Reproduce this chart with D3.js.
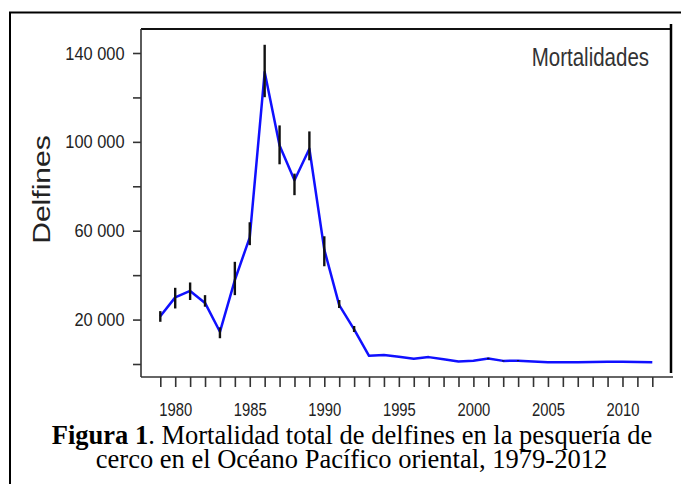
<!DOCTYPE html>
<html>
<head>
<meta charset="utf-8">
<script src="https://cdn.jsdelivr.net/npm/d3@7"></script>
<style>
  body { margin: 0; background: #fff; }
  svg { display: block; }
</style>
</head>
<body>
<div id="chart"></div>
<script>
// data
var years = [1979, 1980, 1981, 1982, 1983, 1984, 1985, 1986, 1987, 1988, 1989, 1990,
             1991, 1992, 1993, 1994, 1995, 1996, 1997, 1998, 1999, 2000, 2001, 2002,
             2003, 2004, 2005, 2006, 2007, 2008, 2009, 2010, 2011, 2012];
var deaths = [21500, 30000, 32900, 27500, 14500, 37800, 57000, 131400, 98400, 82700, 96900, 51500,
              26500, 15600, 3700, 4000, 3300, 2400, 3100, 2100, 1100, 1500, 2500, 1400,
              1500, 1100, 800, 800, 800, 900, 1000, 1000, 900, 800];
var lower = [19000, 25000, 28800, 25800, 11600, 31000, 53500, 120100, 89900, 76000, 91700, 44000,
             25200, 14400, 3700, 4000, 3300, 2400, 3100, 2100, 1100, 1500, 2200, 1200,
             1300, 1100, 800, 800, 800, 900, 1000, 1000, 900, 800];
var upper = [23800, 34300, 36700, 31000, 16500, 46000, 63800, 143700, 107400, 85700, 104700, 57500,
             28800, 17100, 3700, 4000, 3300, 2400, 3100, 2100, 1100, 1500, 2800, 1600,
             1700, 1100, 800, 800, 800, 900, 1000, 1000, 900, 800];
var yTicks = [0, 20000, 40000, 60000, 80000, 100000, 120000, 140000];
var yLabels = ["20 000", "60 000", "100 000", "140 000"];
var xLabels = [1980, 1985, 1990, 1995, 2000, 2005, 2010];

var width = 681, height = 484;
var plotLeft = 141, plotRight = 672, plotTop = 29, plotBottom = 377;

var svg = d3.select("#chart").append("svg")
    .attr("width", width)
    .attr("height", height);

// scales
var x = d3.scaleLinear()
    .domain([1979, 2012])
    .range([160.3, 652.3]);
var y = d3.scaleLinear()
    .domain([0, 140000])
    .range([364, 53]);

// outer frame (left and top only, as in the figure)
svg.append("line").attr("x1", 10).attr("y1", 12).attr("x2", 10).attr("y2", height)
    .attr("stroke", "#000").attr("stroke-width", 2);
svg.append("line").attr("x1", 9).attr("y1", 12.5).attr("x2", width).attr("y2", 12.5)
    .attr("stroke", "#000").attr("stroke-width", 2);

// plot box
svg.append("line").attr("x1", plotLeft).attr("y1", plotTop).attr("x2", plotRight).attr("y2", plotTop)
    .attr("stroke", "#111").attr("stroke-width", 2);
svg.append("line").attr("x1", 671).attr("y1", 24).attr("x2", 671).attr("y2", 373)
    .attr("stroke", "#000").attr("stroke-width", 2.5);
svg.append("line").attr("x1", plotLeft).attr("y1", plotTop).attr("x2", plotLeft).attr("y2", plotBottom)
    .attr("stroke", "#333").attr("stroke-width", 1.6);
svg.append("line").attr("x1", plotLeft).attr("y1", plotBottom).attr("x2", 673).attr("y2", plotBottom)
    .attr("stroke", "#333").attr("stroke-width", 1.6);

// y axis
var yAxis = svg.append("g")
    .attr("transform", "translate(" + plotLeft + ",0)")
    .call(d3.axisLeft(y)
        .tickValues(yTicks)
        .tickSize(8)
        .tickFormat(function(d) {
            var s = d3.format(",")(d).replace(/,/g, " ");
            return yLabels.indexOf(s) >= 0 ? s : "";
        }));
yAxis.select(".domain").remove();
yAxis.selectAll("line").attr("stroke", "#333").attr("stroke-width", 1.6);
yAxis.selectAll("text")
    .attr("x", 0).attr("dy", null)
    .attr("transform", "translate(-16.5,6) scale(1,1.17)")
    .attr("fill", "#222")
    .style("font-family", "'Liberation Sans', Arial, sans-serif")
    .style("font-size", "16.4px");

// x axis
var xAxis = svg.append("g")
    .attr("transform", "translate(0," + plotBottom + ")")
    .call(d3.axisBottom(x)
        .tickValues(years)
        .tickSize(10)
        .tickFormat(function(d) { return xLabels.indexOf(d) >= 0 ? d : ""; }));
xAxis.select(".domain").remove();
xAxis.selectAll("line").attr("stroke", "#333").attr("stroke-width", 1.6);
xAxis.selectAll("text")
    .attr("y", 0).attr("dy", null)
    .attr("transform", "translate(0,38.5) scale(1,1.2)")
    .attr("fill", "#222")
    .style("font-family", "'Liberation Sans', Arial, sans-serif")
    .style("font-size", "14.8px");

// series line
var line = d3.line()
    .x(function(d, i) { return x(years[i]); })
    .y(function(d) { return y(d); });

svg.append("path")
    .datum(deaths)
    .attr("fill", "none")
    .attr("stroke", "#1010ff")
    .attr("stroke-width", 2.5)
    .attr("stroke-linejoin", "round")
    .attr("d", line);

// error bars
svg.selectAll("line.err")
    .data(years)
    .enter().append("line")
    .attr("class", "err")
    .attr("x1", function(d) { return x(d); })
    .attr("x2", function(d) { return x(d); })
    .attr("y1", function(d, i) { return y(lower[i]); })
    .attr("y2", function(d, i) { return y(upper[i]); })
    .attr("stroke", "#111")
    .attr("stroke-width", 2.4);

// axis title
svg.append("text")
    .attr("transform", "translate(50,189.5) rotate(-90) scale(1.28,1)")
    .attr("text-anchor", "middle")
    .attr("fill", "#222")
    .style("font-family", "'Liberation Sans', Arial, sans-serif")
    .style("font-size", "23.5px")
    .text("Delfines");

// label in the corner
svg.append("text")
    .attr("transform", "translate(531.7,66) scale(1,1.22)")
    .attr("fill", "#333")
    .style("font-family", "'Liberation Sans', Arial, sans-serif")
    .style("font-size", "20.5px")
    .text("Mortalidades");

// caption
var caption = svg.append("text")
    .attr("text-anchor", "middle")
    .attr("fill", "#000")
    .style("font-family", "'Liberation Serif', 'Times New Roman', serif")
    .style("font-size", "26.5px");
var l1 = caption.append("tspan").attr("x", 352).attr("y", 444.3);
l1.append("tspan").style("font-weight", "bold").text("Figura 1");
l1.append("tspan").text(". Mortalidad total de delfines en la pesquería de");
caption.append("tspan").attr("x", 351.5).attr("y", 468.3)
    .text("cerco en el Océano Pacífico oriental, 1979-2012");
</script>
</body>
</html>
